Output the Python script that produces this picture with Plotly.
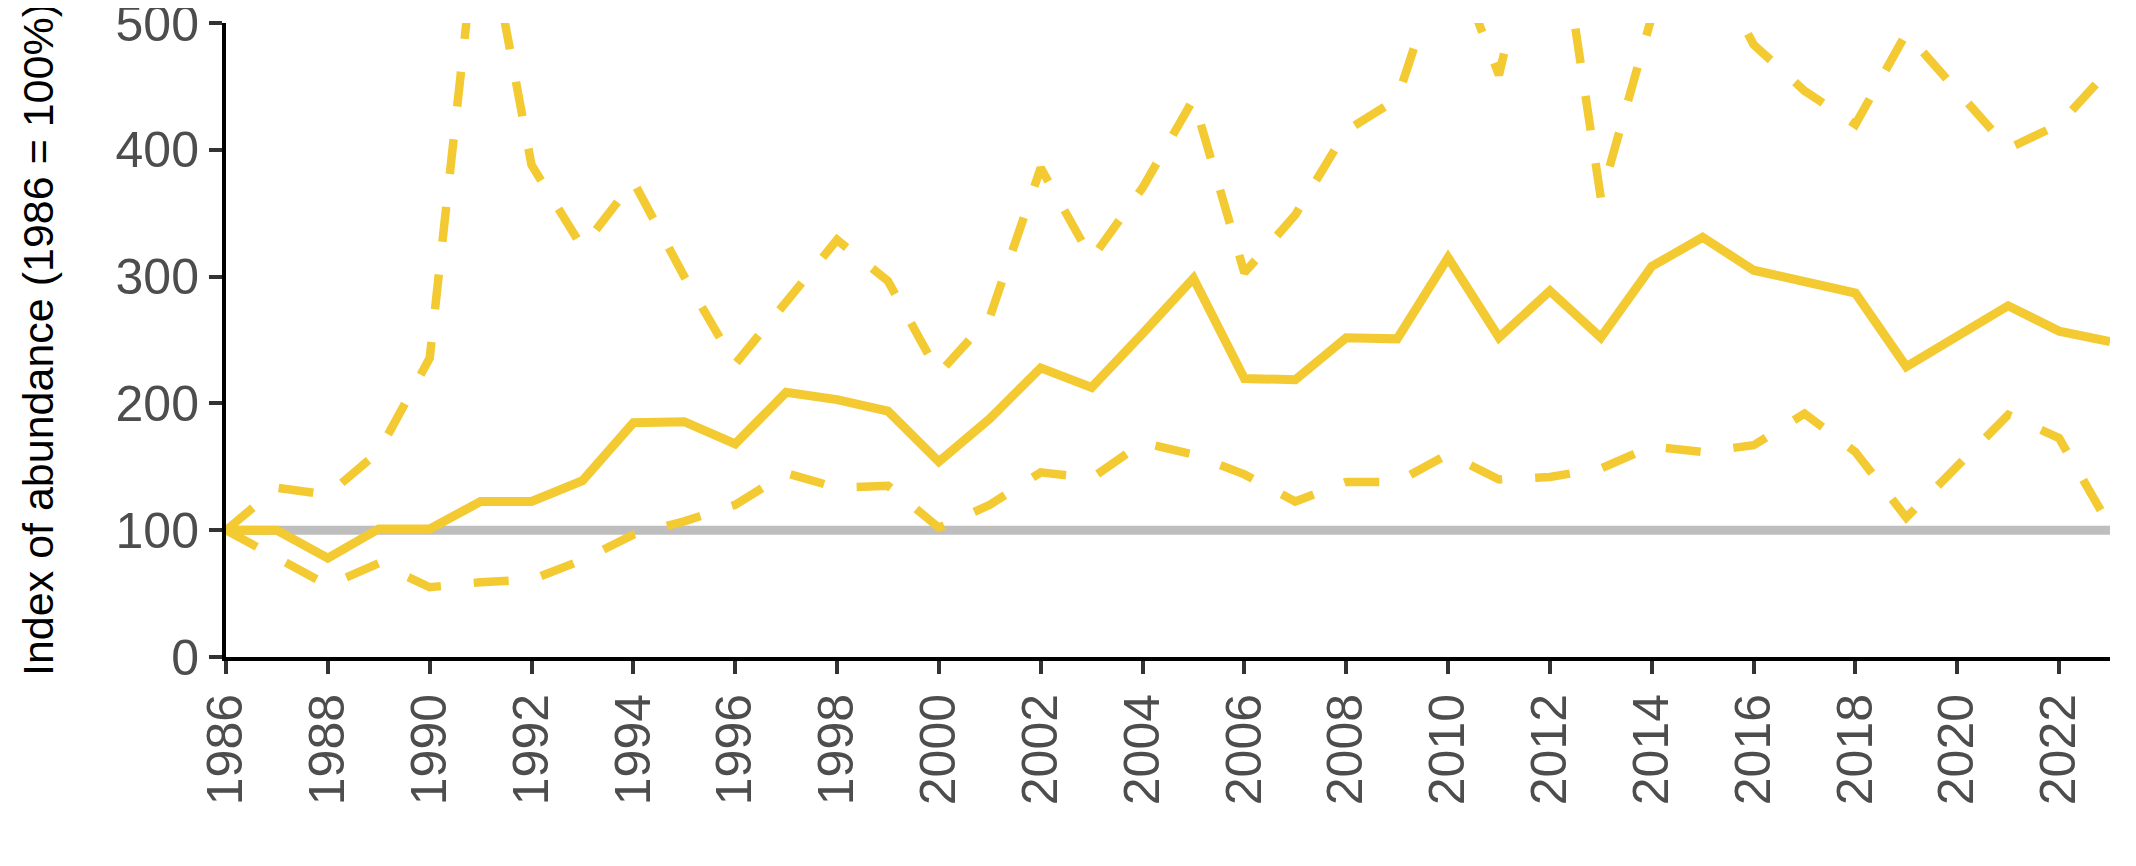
import plotly.graph_objects as go

years = list(range(1986, 2024))

index_values = [100, 100, 78, 101, 101, 122.6, 122.6, 139, 184.8, 185.6,
                168, 208.7, 203, 194, 154, 188, 228, 212.6, 255, 298.7,
                219.6, 218.7, 251.7, 250.9, 315, 252, 288.7, 252, 308, 331,
                305, 296.5, 287, 229, 253, 277, 257, 248.7]

lower_ci = [100, 79, 56.5, 74, 55, 59, 61, 76.5, 96.5, 107,
            120, 145, 133.5, 135, 102, 120, 145.6, 141, 169, 159.6,
            144, 122.6, 138, 138, 160, 140, 142, 148.7, 166, 161.7,
            167, 192, 161.7, 110, 151, 191, 172.6, 103]

upper_ci = [100, 133.5, 128, 162, 235.7, 603, 388, 323, 375, 300,
            231, 281, 329, 296.5, 223.5, 268, 385.7, 314, 370, 440,
            303, 348.7, 415, 440, 562, 459, 630, 362, 505, 560,
            483, 446.5, 420, 492, 446.5, 401, 420, 464]

baseline_value = 100
x_tick_values = list(range(1986, 2023, 2))
y_tick_values = [0, 100, 200, 300, 400, 500]
y_title = "Index of abundance (1986 = 100%)"

yellow = "#F3CA32"
font_family = "Liberation Sans, Arial, Helvetica, sans-serif"

fig = go.Figure()

fig.add_trace(go.Scatter(x=years, y=upper_ci, mode="lines",
                         line=dict(color=yellow, width=8.5, dash="35px,33px"),
                         showlegend=False, hoverinfo="skip"))
fig.add_trace(go.Scatter(x=years, y=lower_ci, mode="lines",
                         line=dict(color=yellow, width=8.5, dash="35px,33px"),
                         showlegend=False, hoverinfo="skip"))
fig.add_trace(go.Scatter(x=years, y=index_values, mode="lines",
                         line=dict(color=yellow, width=9),
                         showlegend=False))

fig.add_shape(type="line", xref="x", yref="y",
              x0=years[0], x1=years[-1], y0=baseline_value, y1=baseline_value,
              line=dict(color="#BEBEBE", width=9), layer="below")

fig.add_annotation(text=y_title, textangle=-90, showarrow=False,
                   xref="paper", yref="paper", x=0, y=0.5,
                   xanchor="center", yanchor="middle", xshift=-188,
                   font=dict(size=43, color="black", family=font_family))

fig.update_layout(
    width=2128, height=858,
    margin=dict(l=218, r=26, t=15, b=209),
    paper_bgcolor="white", plot_bgcolor="white",
    font=dict(family=font_family),
)

fig.update_xaxes(
    range=[1986, 2023], tickmode="array", tickvals=x_tick_values,
    ticktext=[str(v) for v in x_tick_values],
    tickangle=-90, tickfont=dict(size=50, color="#4D4D4D", family=font_family),
    ticklabeloverflow="allow", automargin=False,
    showline=True, linecolor="black", linewidth=4,
    ticks="outside", ticklen=13, tickwidth=4, tickcolor="#333333",
    showgrid=False, zeroline=False,
)
fig.update_yaxes(
    range=[0, 500], tickmode="array", tickvals=y_tick_values,
    tickfont=dict(size=50, color="#4D4D4D", family=font_family),
    ticklabeloverflow="allow", automargin=False,
    showline=True, linecolor="black", linewidth=4,
    ticks="outside", ticklen=13, tickwidth=4, tickcolor="#333333",
    showgrid=False, zeroline=False,
)

fig.write_html("out.html")
